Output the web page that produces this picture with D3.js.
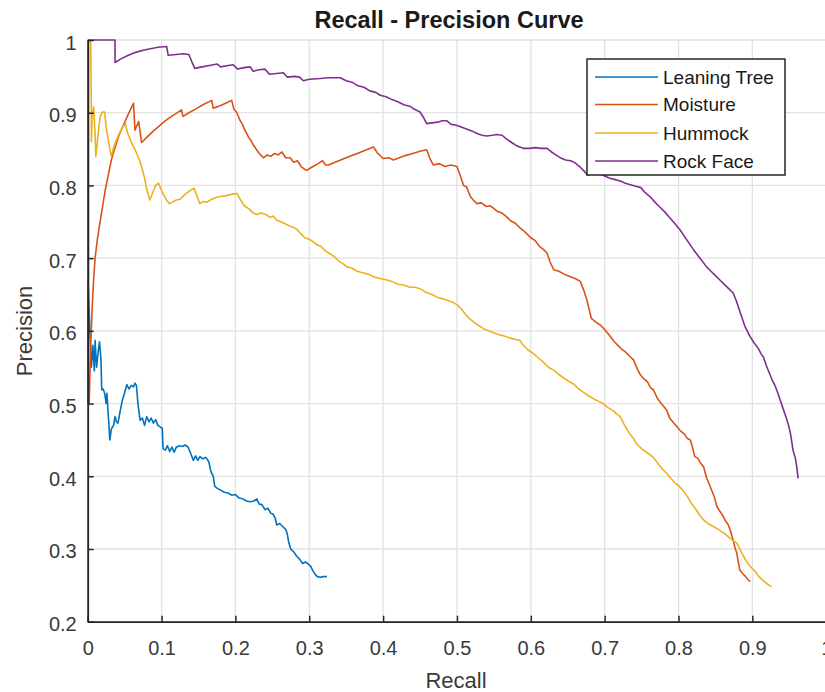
<!DOCTYPE html>
<html>
<head>
<meta charset="utf-8">
<script src="https://cdn.jsdelivr.net/npm/d3@7"></script>
<style>
  html, body { margin: 0; padding: 0; background: #fff; }
  svg { display: block; }
  text { font-family: "Liberation Sans", Arial, Helvetica, sans-serif; }
</style>
</head>
<body>
<svg id="chart" width="825" height="692"></svg>
<script>
// ---------- DATA ----------
const seriesNames = ["Leaning Tree", "Moisture", "Hummock", "Rock Face"];
const xTicks = [0, 0.1, 0.2, 0.3, 0.4, 0.5, 0.6, 0.7, 0.8, 0.9, 1];
const yTicks = [0.2, 0.3, 0.4, 0.5, 0.6, 0.7, 0.8, 0.9, 1];
const xTickLabels = ["0", "0.1", "0.2", "0.3", "0.4", "0.5", "0.6", "0.7", "0.8", "0.9", "1"];
const yTickLabels = ["0.2", "0.3", "0.4", "0.5", "0.6", "0.7", "0.8", "0.9", "1"];

// [recall, precision]
const leaningTree = [[0.0005,0.50],[0.0005,0.667],[0.003,0.60],[0.005,0.55],[0.007,0.58],[0.009,0.545],[0.010,0.587],[0.012,0.55],[0.014,0.57],[0.016,0.585],[0.018,0.56],[0.019,0.519],[0.021,0.52],[0.023,0.514],[0.025,0.50],[0.026,0.514],[0.028,0.482],[0.030,0.450],[0.032,0.465],[0.035,0.47],[0.037,0.482],[0.039,0.475],[0.041,0.473],[0.044,0.49],[0.047,0.505],[0.050,0.515],[0.053,0.526],[0.056,0.52],[0.059,0.525],[0.062,0.523],[0.064,0.528],[0.066,0.525],[0.068,0.50],[0.071,0.477],[0.074,0.48],[0.077,0.47],[0.080,0.482],[0.083,0.475],[0.086,0.48],[0.089,0.473],[0.092,0.478],[0.095,0.47],[0.098,0.468],[0.101,0.466],[0.102,0.438],[0.105,0.436],[0.108,0.442],[0.111,0.434],[0.114,0.44],[0.117,0.433],[0.120,0.44],[0.124,0.442],[0.128,0.441],[0.132,0.443],[0.136,0.44],[0.140,0.43],[0.143,0.422],[0.146,0.428],[0.149,0.422],[0.152,0.427],[0.156,0.424],[0.160,0.426],[0.164,0.42],[0.167,0.406],[0.170,0.40],[0.172,0.386],[0.176,0.383],[0.180,0.381],[0.185,0.378],[0.190,0.377],[0.195,0.374],[0.200,0.375],[0.205,0.37],[0.210,0.369],[0.215,0.366],[0.220,0.365],[0.225,0.366],[0.229,0.369],[0.232,0.362],[0.236,0.361],[0.240,0.354],[0.244,0.356],[0.248,0.349],[0.251,0.348],[0.254,0.342],[0.256,0.333],[0.260,0.335],[0.264,0.331],[0.268,0.327],[0.270,0.322],[0.272,0.31],[0.275,0.300],[0.279,0.296],[0.283,0.29],[0.287,0.286],[0.291,0.28],[0.295,0.282],[0.299,0.279],[0.302,0.276],[0.305,0.27],[0.308,0.265],[0.311,0.262],[0.315,0.261],[0.319,0.262],[0.324,0.262]];

const moisture = [[0.002,0.50],[0.004,0.58],[0.006,0.63],[0.008,0.67],[0.010,0.70],[0.013,0.725],[0.016,0.745],[0.020,0.77],[0.024,0.795],[0.028,0.815],[0.032,0.835],[0.037,0.852],[0.042,0.868],[0.048,0.882],[0.055,0.898],[0.062,0.913],[0.064,0.876],[0.069,0.888],[0.073,0.859],[0.080,0.866],[0.088,0.874],[0.096,0.881],[0.104,0.888],[0.112,0.894],[0.120,0.899],[0.127,0.904],[0.129,0.895],[0.137,0.900],[0.146,0.905],[0.156,0.911],[0.168,0.917],[0.170,0.906],[0.180,0.910],[0.189,0.914],[0.195,0.917],[0.198,0.905],[0.202,0.90],[0.206,0.890],[0.209,0.885],[0.212,0.878],[0.215,0.872],[0.218,0.866],[0.221,0.862],[0.224,0.856],[0.228,0.850],[0.231,0.846],[0.234,0.842],[0.238,0.838],[0.243,0.842],[0.248,0.840],[0.253,0.844],[0.258,0.842],[0.263,0.846],[0.268,0.838],[0.274,0.838],[0.279,0.832],[0.284,0.834],[0.289,0.826],[0.294,0.822],[0.297,0.821],[0.305,0.826],[0.312,0.830],[0.318,0.834],[0.322,0.828],[0.326,0.828],[0.335,0.832],[0.345,0.836],[0.355,0.840],[0.365,0.844],[0.375,0.848],[0.387,0.853],[0.392,0.845],[0.400,0.837],[0.408,0.838],[0.414,0.835],[0.422,0.838],[0.430,0.841],[0.440,0.844],[0.450,0.847],[0.459,0.849],[0.463,0.838],[0.468,0.828],[0.476,0.830],[0.484,0.826],[0.492,0.828],[0.500,0.826],[0.504,0.815],[0.509,0.80],[0.513,0.798],[0.518,0.785],[0.522,0.780],[0.527,0.775],[0.533,0.776],[0.540,0.771],[0.545,0.772],[0.549,0.769],[0.555,0.764],[0.561,0.762],[0.567,0.757],[0.573,0.751],[0.579,0.748],[0.585,0.742],[0.590,0.738],[0.594,0.734],[0.600,0.728],[0.606,0.724],[0.612,0.716],[0.617,0.712],[0.622,0.707],[0.626,0.695],[0.631,0.684],[0.638,0.682],[0.645,0.678],[0.652,0.675],[0.660,0.672],[0.667,0.668],[0.672,0.655],[0.676,0.642],[0.682,0.617],[0.688,0.612],[0.694,0.608],[0.698,0.604],[0.703,0.598],[0.708,0.592],[0.713,0.585],[0.718,0.580],[0.723,0.575],[0.728,0.571],[0.734,0.565],[0.739,0.560],[0.744,0.548],[0.748,0.540],[0.753,0.534],[0.758,0.530],[0.762,0.522],[0.766,0.519],[0.771,0.508],[0.775,0.502],[0.780,0.496],[0.784,0.491],[0.788,0.480],[0.793,0.474],[0.798,0.468],[0.803,0.462],[0.808,0.458],[0.812,0.452],[0.816,0.450],[0.819,0.440],[0.822,0.427],[0.826,0.425],[0.830,0.418],[0.834,0.413],[0.838,0.398],[0.842,0.388],[0.846,0.378],[0.849,0.370],[0.852,0.358],[0.856,0.352],[0.860,0.346],[0.864,0.338],[0.867,0.334],[0.870,0.326],[0.874,0.312],[0.877,0.300],[0.879,0.294],[0.881,0.282],[0.883,0.271],[0.887,0.266],[0.891,0.262],[0.894,0.258],[0.897,0.255]];

const hummock = [[0.004,1.0],[0.005,0.90],[0.005,0.86],[0.006,0.895],[0.008,0.908],[0.010,0.87],[0.011,0.840],[0.013,0.86],[0.015,0.88],[0.017,0.895],[0.020,0.901],[0.023,0.901],[0.025,0.88],[0.028,0.862],[0.030,0.85],[0.032,0.840],[0.035,0.852],[0.038,0.86],[0.042,0.87],[0.046,0.878],[0.051,0.885],[0.054,0.872],[0.058,0.862],[0.062,0.853],[0.066,0.845],[0.071,0.832],[0.074,0.822],[0.077,0.81],[0.080,0.795],[0.084,0.780],[0.088,0.79],[0.092,0.8],[0.096,0.803],[0.100,0.793],[0.104,0.785],[0.108,0.778],[0.111,0.775],[0.116,0.778],[0.120,0.780],[0.125,0.781],[0.130,0.786],[0.135,0.79],[0.140,0.794],[0.144,0.796],[0.148,0.785],[0.152,0.775],[0.157,0.778],[0.162,0.777],[0.166,0.78],[0.170,0.782],[0.176,0.784],[0.182,0.785],[0.188,0.786],[0.195,0.788],[0.202,0.789],[0.207,0.78],[0.212,0.772],[0.218,0.768],[0.224,0.762],[0.229,0.760],[0.235,0.762],[0.241,0.76],[0.247,0.756],[0.251,0.758],[0.256,0.752],[0.262,0.75],[0.268,0.747],[0.274,0.744],[0.279,0.742],[0.283,0.740],[0.288,0.734],[0.294,0.728],[0.300,0.726],[0.306,0.722],[0.311,0.718],[0.316,0.716],[0.322,0.71],[0.328,0.706],[0.334,0.702],[0.340,0.696],[0.346,0.692],[0.351,0.688],[0.358,0.686],[0.365,0.682],[0.372,0.68],[0.380,0.678],[0.388,0.674],[0.396,0.672],[0.405,0.670],[0.412,0.668],[0.420,0.664],[0.428,0.663],[0.436,0.660],[0.443,0.660],[0.450,0.658],[0.458,0.653],[0.466,0.650],[0.474,0.646],[0.481,0.644],[0.486,0.642],[0.493,0.640],[0.500,0.636],[0.506,0.630],[0.512,0.622],[0.518,0.616],[0.524,0.611],[0.530,0.607],[0.536,0.603],[0.540,0.601],[0.548,0.598],[0.556,0.595],[0.564,0.593],[0.572,0.590],[0.580,0.588],[0.585,0.587],[0.590,0.580],[0.596,0.574],[0.603,0.569],[0.610,0.563],[0.617,0.557],[0.624,0.550],[0.631,0.546],[0.638,0.540],[0.645,0.535],[0.652,0.530],[0.658,0.527],[0.665,0.52],[0.672,0.515],[0.679,0.51],[0.686,0.506],[0.692,0.503],[0.698,0.500],[0.705,0.494],[0.712,0.49],[0.717,0.485],[0.721,0.482],[0.726,0.472],[0.731,0.463],[0.735,0.457],[0.739,0.452],[0.743,0.445],[0.750,0.438],[0.758,0.432],[0.766,0.426],[0.772,0.418],[0.778,0.41],[0.784,0.404],[0.788,0.399],[0.795,0.391],[0.801,0.386],[0.806,0.381],[0.812,0.372],[0.818,0.362],[0.824,0.354],[0.829,0.346],[0.834,0.340],[0.840,0.335],[0.847,0.331],[0.854,0.327],[0.861,0.322],[0.866,0.318],[0.872,0.313],[0.879,0.308],[0.884,0.298],[0.888,0.29],[0.892,0.283],[0.897,0.276],[0.903,0.27],[0.909,0.262],[0.915,0.256],[0.920,0.252],[0.926,0.248]];

const rockFace = [[0.001,0.50],[0.001,1.0],[0.037,1.0],[0.037,0.969],[0.045,0.974],[0.055,0.979],[0.065,0.983],[0.075,0.986],[0.085,0.988],[0.095,0.990],[0.107,0.991],[0.109,0.979],[0.120,0.980],[0.130,0.981],[0.137,0.980],[0.141,0.970],[0.145,0.961],[0.155,0.963],[0.165,0.965],[0.175,0.967],[0.180,0.963],[0.190,0.965],[0.197,0.966],[0.203,0.960],[0.212,0.962],[0.220,0.963],[0.224,0.957],[0.232,0.959],[0.240,0.96],[0.246,0.953],[0.256,0.954],[0.265,0.955],[0.270,0.949],[0.280,0.950],[0.287,0.949],[0.292,0.944],[0.300,0.946],[0.315,0.947],[0.325,0.948],[0.342,0.948],[0.350,0.944],[0.358,0.942],[0.366,0.937],[0.374,0.935],[0.382,0.930],[0.390,0.928],[0.396,0.924],[0.404,0.922],[0.412,0.918],[0.420,0.915],[0.428,0.911],[0.436,0.909],[0.442,0.905],[0.450,0.901],[0.455,0.893],[0.459,0.885],[0.466,0.886],[0.474,0.887],[0.480,0.889],[0.486,0.889],[0.492,0.884],[0.498,0.883],[0.504,0.881],[0.512,0.878],[0.520,0.875],[0.528,0.871],[0.534,0.869],[0.540,0.868],[0.548,0.869],[0.554,0.870],[0.561,0.869],[0.567,0.864],[0.574,0.859],[0.580,0.855],[0.585,0.853],[0.590,0.851],[0.598,0.851],[0.606,0.852],[0.614,0.851],[0.622,0.851],[0.628,0.846],[0.634,0.842],[0.640,0.838],[0.647,0.835],[0.654,0.834],[0.660,0.831],[0.666,0.826],[0.672,0.82],[0.677,0.814],[0.683,0.817],[0.688,0.818],[0.694,0.816],[0.700,0.813],[0.707,0.810],[0.714,0.808],[0.721,0.806],[0.728,0.803],[0.735,0.801],[0.742,0.799],[0.749,0.797],[0.755,0.790],[0.762,0.784],[0.768,0.777],[0.775,0.770],[0.781,0.764],[0.787,0.757],[0.793,0.750],[0.798,0.744],[0.802,0.739],[0.808,0.730],[0.814,0.721],[0.820,0.712],[0.826,0.704],[0.832,0.696],[0.838,0.688],[0.844,0.682],[0.850,0.676],[0.856,0.670],[0.862,0.664],[0.868,0.658],[0.874,0.652],[0.878,0.642],[0.882,0.630],[0.886,0.618],[0.890,0.606],[0.894,0.598],[0.897,0.592],[0.902,0.584],[0.908,0.576],[0.912,0.568],[0.915,0.564],[0.919,0.552],[0.923,0.542],[0.927,0.532],[0.931,0.524],[0.934,0.516],[0.938,0.504],[0.942,0.492],[0.946,0.480],[0.949,0.470],[0.951,0.462],[0.953,0.450],[0.955,0.436],[0.958,0.426],[0.960,0.414],[0.962,0.397]];

const seriesData = [leaningTree, moisture, hummock, rockFace];
const seriesColors = ["#0072BD", "#D95319", "#EDB120", "#7E2F8E"];

// ---------- LAYOUT ----------
const svg = d3.select("#chart");
const plotLeft = 87.7, plotRight = 826.2, plotTop = 40, plotBottom = 621.7;
const x = d3.scaleLinear().domain([0, 1]).range([plotLeft, plotRight]);
const y = d3.scaleLinear().domain([0.2, 1]).range([plotBottom, plotTop]);

svg.append("rect").attr("width", 825).attr("height", 692).attr("fill", "#fff");

// grid
const grid = svg.append("g");
grid.selectAll("line.vx").data(xTicks).join("line").attr("class", "vx")
  .attr("x1", d => x(d)).attr("x2", d => x(d))
  .attr("y1", plotTop).attr("y2", plotBottom)
  .attr("stroke", "#e2e2e2").attr("stroke-width", 1.3);
grid.selectAll("line.hy").data(yTicks).join("line").attr("class", "hy")
  .attr("x1", plotLeft).attr("x2", plotRight)
  .attr("y1", d => y(d)).attr("y2", d => y(d))
  .attr("stroke", "#e2e2e2").attr("stroke-width", 1.3);

// curves
const line = d3.line().x(d => x(d[0])).y(d => y(d[1]));
svg.append("g").selectAll("path").data(seriesData).join("path")
  .attr("d", line)
  .attr("fill", "none")
  .attr("stroke", (d, i) => seriesColors[i])
  .attr("stroke-width", 1.6)
  .attr("stroke-linejoin", "round");

// axes (MATLAB style, ticks inward)
const axisColor = "#262626";
const xAxis = svg.append("g").attr("transform", `translate(0,${plotBottom})`)
  .call(d3.axisBottom(x).tickValues(xTicks).tickSizeInner(-6).tickSizeOuter(0)
    .tickFormat((d, i) => xTickLabels[i]).tickPadding(19));
const yAxis = svg.append("g").attr("transform", `translate(${plotLeft},0)`)
  .call(d3.axisLeft(y).tickValues(yTicks).tickSizeInner(-6).tickSizeOuter(0)
    .tickFormat((d, i) => yTickLabels[i]).tickPadding(11));
[xAxis, yAxis].forEach(a => {
  a.select(".domain").attr("stroke", axisColor).attr("stroke-width", 1.8);
  a.selectAll(".tick line").attr("stroke", axisColor).attr("stroke-width", 1.5);
  a.selectAll(".tick text").attr("fill", "#3a3a3a").attr("font-size", 20)
    .style("font-family", '"Liberation Sans", Arial, sans-serif');
});
yAxis.selectAll(".tick text").attr("dy", "0.45em");

// labels
svg.append("text").attr("x", 449).attr("y", 28).attr("text-anchor", "middle")
  .attr("font-size", 23.5).attr("font-weight", "bold").attr("fill", "#1a1a1a")
  .text("Recall - Precision Curve");
svg.append("text").attr("x", 456).attr("y", 688).attr("text-anchor", "middle")
  .attr("font-size", 22).attr("fill", "#3a3a3a").text("Recall");
svg.append("text").attr("transform", "translate(32,331) rotate(-90)")
  .attr("text-anchor", "middle").attr("font-size", 22).attr("fill", "#3a3a3a")
  .text("Precision");

// legend
const lg = svg.append("g");
lg.append("rect").attr("x", 587).attr("y", 59).attr("width", 198).attr("height", 116)
  .attr("fill", "#fff").attr("stroke", axisColor).attr("stroke-width", 1.5);
const rowY = [77, 104.5, 133, 161];
seriesNames.forEach((name, i) => {
  lg.append("line").attr("x1", 595).attr("x2", 658).attr("y1", rowY[i]).attr("y2", rowY[i])
    .attr("stroke", seriesColors[i]).attr("stroke-width", 1.6);
  lg.append("text").attr("x", 663).attr("y", rowY[i]).attr("dy", "0.36em")
    .attr("font-size", 19).attr("fill", "#1a1a1a").text(name);
});
</script>
</body>
</html>
